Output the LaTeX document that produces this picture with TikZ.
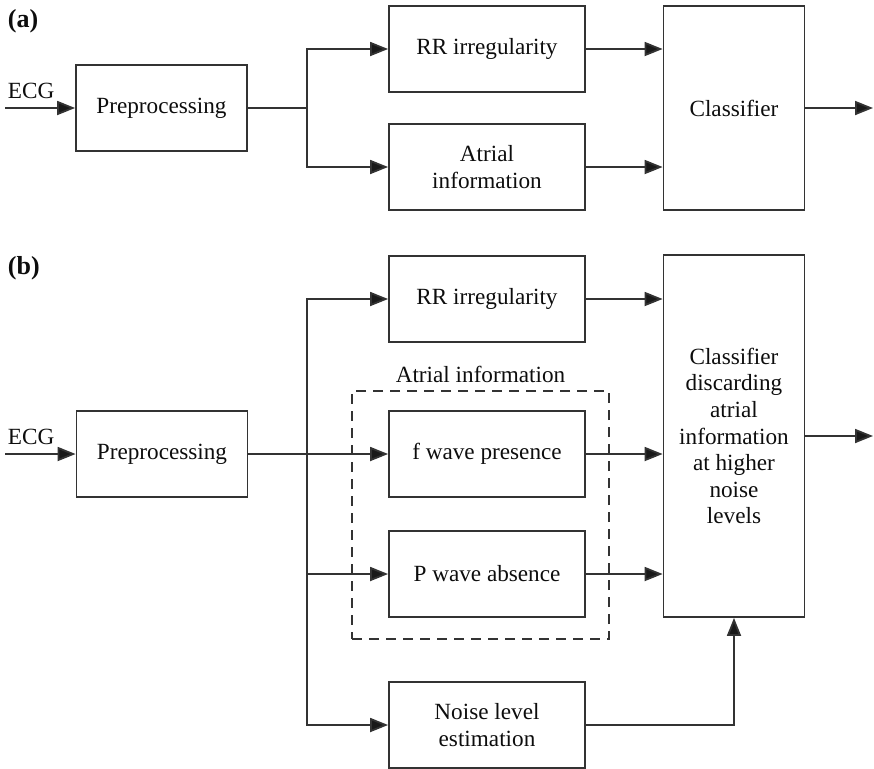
\documentclass[tikz,border=0pt]{standalone}
\usepackage{fontspec}
\setmainfont{Liberation Serif}
\usetikzlibrary{arrows.meta,positioning}
\tikzset{
    raw block/.style={rectangle, line width=0.9pt, draw, align=center, inner sep=2pt},
    block/.style={raw block, minimum width=98pt, minimum height=43pt},
    pre block/.style={raw block, minimum width=85.5pt, minimum height=43pt},
    class block/.style={raw block, minimum width=70.5pt},
    group box/.style={rectangle, line width=0.8pt, draw, dash pattern=on 5pt off 3.5pt},
    panel label/.style={font=\fontsize{13}{15}\selectfont\bfseries, anchor=base west, inner sep=0pt},
    plain text/.style={inner sep=0pt}
}
\begin{document}
\begin{tikzpicture}[
	x=0.5pt, y=-0.5pt,
	draw=black!80, text=black!95, line width=0.9pt,
	font=\fontsize{11.6}{13.3}\selectfont,
	>={Triangle[length=9pt,width=7pt,fill=black!90]}]
		\useasboundingbox (0,0) rectangle (874,768);
		\node[panel label] (labelA) at (7,27) {(a)};
		\node[panel label] (labelB) at (7,274) {(b)};

		\node[pre block] (preA) at (161.5,108) {Preprocessing};
		\node[block] (rrA) at (487,49) {RR irregularity};
		\node[block] (atrialA) at (487,167) {Atrial\\information};
		\node[class block, minimum height=102pt] (classA) at (734,108) {Classifier};
		\coordinate (ecgA) at (5,108);
		\coordinate (splitA) at (307,108);
		\coordinate (outA) at (873,108);
		\node[plain text, anchor=base west] (ecgTextA) at (7,98) {ECG};
		\draw[->] (ecgA) -- (preA.west);
		\draw (preA.east) -- (splitA);
		\draw[->] (splitA) |- (rrA.west);
		\draw[->] (splitA) |- (atrialA.west);
		\draw[->] (rrA.east) -- (rrA.east -| classA.west);
		\draw[->] (atrialA.east) -- (atrialA.east -| classA.west);
		\draw[->] (classA.east) -- (outA);

		\node[group box, minimum width=128.5pt, minimum height=124pt] (atrialBox) at (480.5,515) {};
		\node[plain text, anchor=base, yshift=4pt] (atrialText) at (atrialBox.north) {Atrial information};
		\node[pre block] (preB) at (162,454) {Preprocessing};
		\node[block] (rrB) at (487,299) {RR irregularity};
		\node[block] (fwaveB) at (487,454) {f wave presence};
		\node[block] (pwaveB) at (487,574) {P wave absence};
		\node[block] (noiseB) at (487,725) {Noise level\\estimation};
		\node[class block, minimum height=181pt] (classB) at (734,436)
			{Classifier\\discarding\\atrial\\information\\at higher\\noise\\levels};
		\coordinate (ecgB) at (5,454);
		\coordinate (splitB) at (307,454);
		\coordinate (outB) at (873,436);
		\node[plain text, anchor=base west] (ecgTextB) at (7,444) {ECG};
		\draw[->] (ecgB) -- (preB.west);
		\draw[->] (preB.east) -- (fwaveB.west);
		\draw[->] (splitB) |- (rrB.west);
		\draw[->] (splitB) |- (pwaveB.west);
		\draw[->] (splitB) |- (noiseB.west);
		\draw[->] (rrB.east) -- (rrB.east -| classB.west);
		\draw[->] (fwaveB.east) -- (fwaveB.east -| classB.west);
		\draw[->] (pwaveB.east) -- (pwaveB.east -| classB.west);
		\draw[->] (noiseB.east) -| (classB.south);
		\draw[->] (classB.east) -- (outB);
	\end{tikzpicture}
\end{document}
